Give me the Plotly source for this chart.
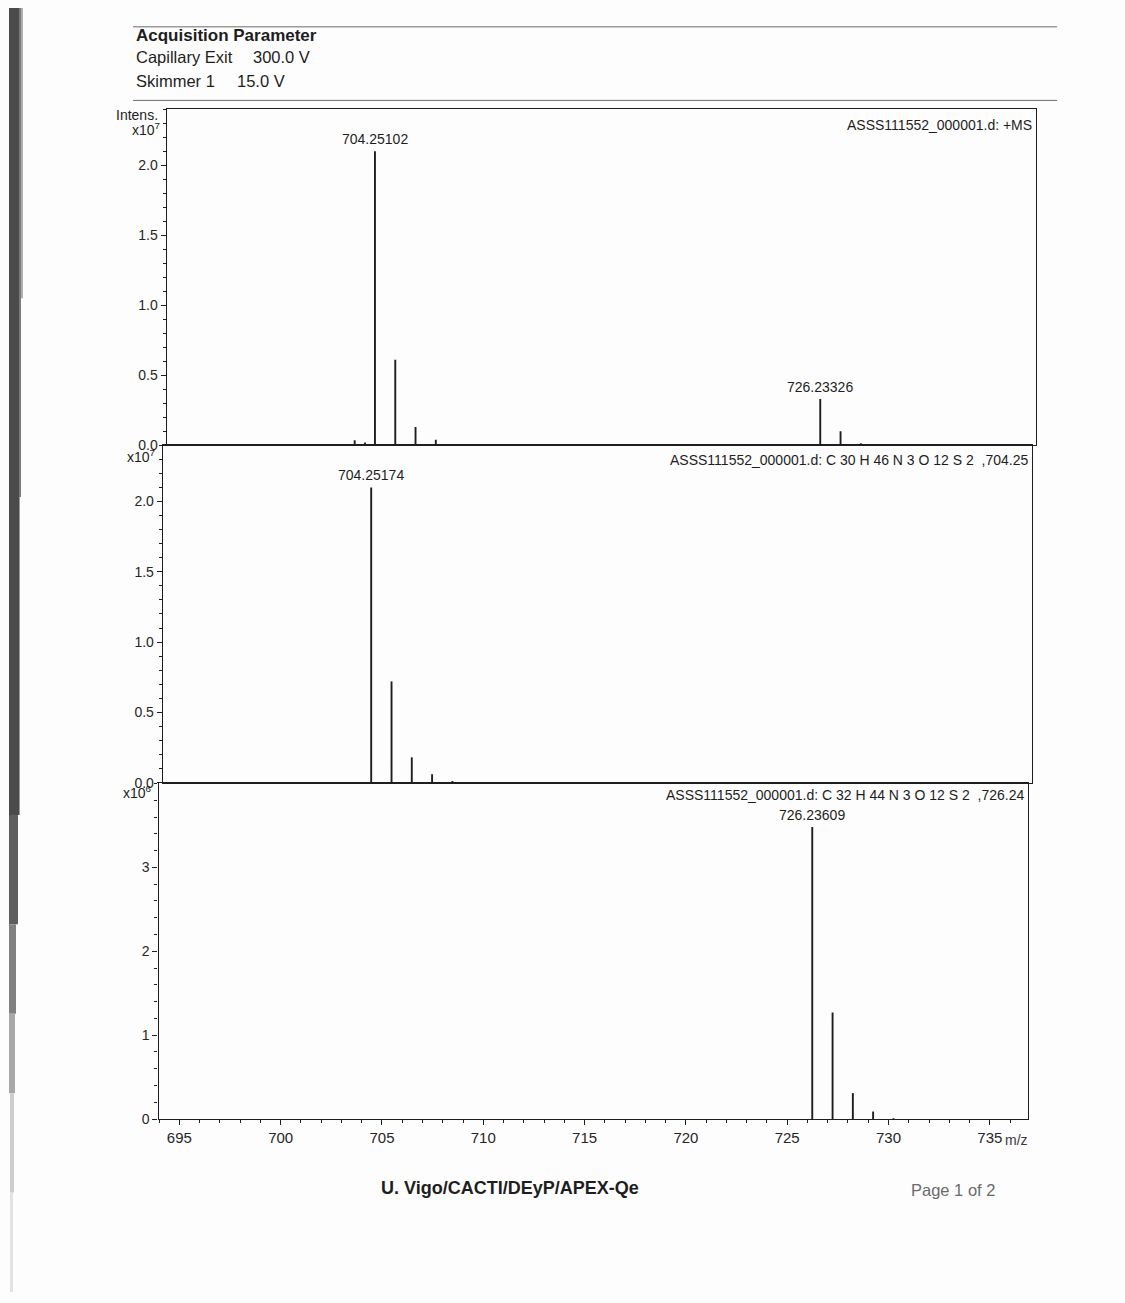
import plotly.graph_objects as go

# ---- spectrum data (intensities in units of the panel multiplier) ----
# Panel 1: measured +MS spectrum (x10^7)
ms_mz = [703.25, 703.76, 704.25102, 705.254, 706.254, 707.255, 708.26,
         726.23326, 727.236, 728.238]
ms_int = [0.035, 0.02, 2.10, 0.61, 0.13, 0.04, 0.006,
          0.33, 0.10, 0.015]
ms_labels = {704.25102: "704.25102", 726.23326: "726.23326"}

# Panel 2: simulated pattern C30H46N3O12S2 (x10^7)
sim1_mz = [704.25174, 705.255, 706.255, 707.256, 708.257]
sim1_int = [2.10, 0.72, 0.18, 0.06, 0.012]
sim1_labels = {704.25174: "704.25174"}

# Panel 3: simulated pattern C32H44N3O12S2 (x10^6)
sim2_mz = [726.23609, 727.239, 728.24, 729.24, 730.241]
sim2_int = [3.48, 1.27, 0.31, 0.09, 0.01]
sim2_labels = {726.23609: "726.23609"}

panel_titles = [
    "ASSS111552_000001.d: +MS",
    "ASSS111552_000001.d: C 30 H 46 N 3 O 12 S 2  ,704.25",
    "ASSS111552_000001.d: C 32 H 44 N 3 O 12 S 2  ,726.24",
]
x_ticks = [695, 700, 705, 710, 715, 720, 725, 730, 735]
y_ticks_7 = [0.0, 0.5, 1.0, 1.5, 2.0]
y_ticks_6 = [0, 1, 2, 3]

W, H = 1125, 1303
FONT = "Liberation Sans, Arial, sans-serif"
INK = "#1e1e1e"


def px(x):
    return x / W


def py(y):
    return 1 - y / H


def sticks(mz, inten):
    xs, ys = [], []
    for m, v in zip(mz, inten):
        xs += [m, m, None]
        ys += [0, v, None]
    return xs, ys


fig = go.Figure()

series = [(ms_mz, ms_int, "x", "y"),
          (sim1_mz, sim1_int, "x2", "y2"),
          (sim2_mz, sim2_int, "x3", "y3")]
for mz, inten, xa, ya in series:
    xs, ys = sticks(mz, inten)
    fig.add_trace(go.Scatter(x=xs, y=ys, mode="lines", xaxis=xa, yaxis=ya,
                             line=dict(color=INK, width=1.9),
                             showlegend=False, hoverinfo="skip"))

# panel geometry (pixel boxes)
x_doms = [(166.7, 1035.7), (162.8, 1032.3), (158.5, 1027.7)]
y_doms = [(110, 448), (448, 787.5), (787.5, 1126)]
x_range = [693.97, 736.87]

axis_line = dict(showline=True, mirror=True, linecolor=INK, linewidth=1.3,
                 showgrid=False, zeroline=False)
tick_font = dict(family=FONT, size=14, color="#262626")

layout = dict(
    width=W, height=H, autosize=False,
    margin=dict(l=0, r=0, t=0, b=0),
    paper_bgcolor="#fdfdfd", plot_bgcolor="#fdfdfd",
    showlegend=False,
)

for i in range(3):
    sfx = "" if i == 0 else str(i + 1)
    xd, yd = x_doms[i], y_doms[i]
    last = i == 2
    layout["xaxis" + sfx] = dict(
        axis_line, domain=[px(xd[0]), px(xd[1])], range=x_range,
        anchor="y" + sfx,
        tickvals=x_ticks if last else [],
        ticks="outside" if last else "", ticklen=5, tickwidth=1.2,
        tickcolor=INK, showticklabels=last, tickfont=dict(tick_font, size=15),
        minor=dict(dtick=1, tick0=0, ticks="outside", ticklen=3,
                   tickcolor=INK, tickwidth=1) if last else dict(ticks=""),
    )
    if last:
        yt, ytext, minor_dt, yr = y_ticks_6, [str(v) for v in y_ticks_6], 0.2, [0, 4.01]
    else:
        yt, ytext, minor_dt, yr = y_ticks_7, [f"{v:.1f}" for v in y_ticks_7], 0.1, [0, 2.40]
    layout["yaxis" + sfx] = dict(
        axis_line, domain=[py(yd[1]), py(yd[0])], range=yr,
        anchor="x" + sfx, tickvals=yt, ticktext=ytext,
        ticks="outside", ticklen=5, tickwidth=1.2, tickcolor=INK,
        tickfont=tick_font,
        minor=dict(dtick=minor_dt, tick0=0, ticks="outside", ticklen=3,
                   tickcolor=INK, tickwidth=1),
    )

fig.update_layout(**layout)

ann = []
# peak labels
for labels, mz, inten, xa, ya in [(ms_labels, ms_mz, ms_int, "x", "y"),
                                  (sim1_labels, sim1_mz, sim1_int, "x2", "y2"),
                                  (sim2_labels, sim2_mz, sim2_int, "x3", "y3")]:
    for m, v in zip(mz, inten):
        if m in labels:
            ann.append(dict(x=m, y=v, xref=xa, yref=ya, text=labels[m],
                            showarrow=False, yanchor="bottom", yshift=2,
                            font=dict(family=FONT, size=14, color=INK)))

# panel titles (top-right inside each box)
for title, xr, yc in zip(panel_titles, [1034, 1031, 1027], [126, 463, 800]):
    ann.append(dict(x=px(xr), y=py(yc), xref="paper", yref="paper",
                    text=title, showarrow=False, xanchor="right",
                    yanchor="middle",
                    font=dict(family=FONT, size=14, color=INK)))

# intensity multipliers
ann.append(dict(x=px(160), y=py(116), xref="paper", yref="paper",
                text="Intens.", showarrow=False, xanchor="right",
                yanchor="middle", font=dict(family=FONT, size=14, color=INK)))
for txt, xr, yc in [("x10<sup>7</sup>", 162, 130),
                    ("x10<sup>7</sup>", 157, 459),
                    ("x10<sup>6</sup>", 154, 797)]:
    ann.append(dict(x=px(xr), y=py(yc), xref="paper", yref="paper",
                    text=txt, showarrow=False, xanchor="right",
                    yanchor="middle", font=dict(family=FONT, size=14, color=INK)))

# axis unit
ann.append(dict(x=px(1003), y=py(1147), xref="paper", yref="paper",
                text="m/z", showarrow=False, xanchor="left", yanchor="middle",
                font=dict(family=FONT, size=14, color="#3a3a3a")))

# header block
ann.append(dict(x=px(134), y=py(36), xref="paper", yref="paper",
                text="<b>Acquisition Parameter</b>", showarrow=False,
                xanchor="left", yanchor="middle",
                font=dict(family=FONT, size=17, color=INK)))
for lab, val, yc, xv in [("Capillary Exit", "300.0 V", 57, 251),
                         ("Skimmer 1", "15.0 V", 81, 235)]:
    ann.append(dict(x=px(134), y=py(yc), xref="paper", yref="paper",
                    text=lab, showarrow=False, xanchor="left",
                    yanchor="middle", font=dict(family=FONT, size=16.5, color=INK)))
    ann.append(dict(x=px(xv), y=py(yc), xref="paper", yref="paper",
                    text=val, showarrow=False, xanchor="left",
                    yanchor="middle", font=dict(family=FONT, size=16.5, color=INK)))

# footer
ann.append(dict(x=px(510), y=py(1195), xref="paper", yref="paper",
                text="<b>U. Vigo/CACTI/DEyP/APEX-Qe</b>", showarrow=False,
                xanchor="center", yanchor="middle",
                font=dict(family=FONT, size=18, color=INK)))
ann.append(dict(x=px(953), y=py(1197), xref="paper", yref="paper",
                text="Page 1 of 2", showarrow=False, xanchor="center",
                yanchor="middle", font=dict(family=FONT, size=16.5, color="#6a6a6a")))

fig.update_layout(annotations=ann)

shapes = []
# header rules
for yl in [27, 101]:
    shapes.append(dict(type="line", xref="paper", yref="paper",
                       x0=px(133), x1=px(1057), y0=py(yl), y1=py(yl),
                       line=dict(color="#6a6a6a", width=1)))
# dark binding edge at the left of the sheet, fading downward
for x0, x1, y0, y1, col in [(9, 19, 8, 820, "#4b4b4b"),
                            (19, 21, 8, 500, "#7a7a7a"),
                            (21, 23, 8, 300, "#b0b0b0"),
                            (19, 20, 500, 820, "#9a9a9a"),
                            (9, 18, 820, 930, "#5e5e5e"),
                            (9, 16, 930, 1020, "#808080"),
                            (9, 15, 1020, 1100, "#a8a8a8"),
                            (10, 14, 1100, 1200, "#cdcdcd"),
                            (10, 13, 1200, 1300, "#e2e2e2")]:
    shapes.append(dict(type="rect", xref="paper", yref="paper",
                       x0=px(x0), x1=px(x1), y0=py(y1), y1=py(y0),
                       fillcolor=col, line=dict(width=0), layer="above"))
fig.update_layout(shapes=shapes)

fig.write_html("out.html")
